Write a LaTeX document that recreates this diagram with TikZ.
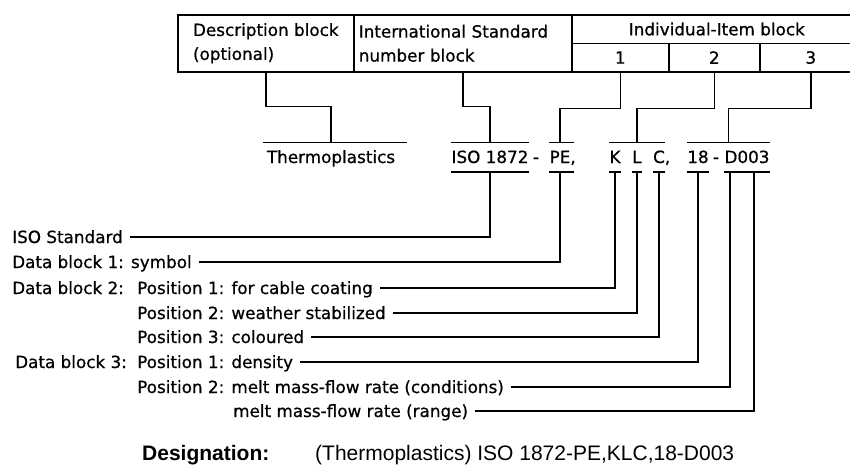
\documentclass[tikz,border=0pt]{standalone}
\usepackage{fontspec}
\setmainfont{DejaVu Sans}[FakeBold=0.7]
\newfontfamily\desfont{Liberation Sans}
\usepackage{tikz}
\usetikzlibrary{calc,positioning}

\begin{document}
\begin{tikzpicture}[
  x=1pt, y=-1pt,
  font=\fontsize{16.8}{24}\selectfont,
  blk/.style={draw, line width=1.6pt, anchor=north west, minimum height=57pt, inner ysep=0pt, align=left},
  cell/.style={draw, line width=1.6pt, anchor=north west, minimum height=28.5pt, inner sep=0pt},
  item/.style={inner sep=0pt, text height=12pt, text depth=0pt, minimum height=29pt},
  lbl/.style={anchor=west, inner sep=0pt, text height=12pt, text depth=0pt},
  bar/.style={line width=1.6pt},
  lead/.style={line width=1.6pt},
  tie/.style={line width=1.6pt, shorten >=7pt},
]
\useasboundingbox (0,0) rectangle (850,466);

\node[blk, minimum width=176pt] (desc) at (177,14) {Description block\\(optional)};
\node[blk, minimum width=218pt, text width=208pt, inner xsep=5pt] (isn) at (353,14) {International Standard\\number block};
\node[cell, minimum width=290pt] (ind) at (571,14) {Individual-Item block};
\node[cell, minimum width=97pt] (c1) at (571,42.5) {1};
\node[cell, minimum width=91pt] (c2) at (668,42.5) {2};
\node[cell, minimum width=102pt] (c3) at (759,42.5) {3};

\node[item] (thermo) at (331,157) {Thermoplastics};
\node[item] (iso) at (490,157) {ISO 1872};
\node[item] (dsh1) at (536,157) {-};
\node[item] (pe) at (560,157) {PE\rlap{,}};
\node[item] (k) at (615,157) {K};
\node[item] (l) at (637,157) {L};
\node[item] (c) at (659,157) {C\rlap{,}};
\node[item] (n18) at (698,157) {18};
\node[item] (dsh2) at (716,157) {-};
\node[item] (d003) at (747,157) {D003};
\coordinate (grp3) at ($(n18.north west)!.5!(d003.north east)$);

\draw[bar] ([xshift=-4pt]thermo.north west) -- ([xshift=12pt]thermo.north east);
\draw[bar] (iso.north west) -- (iso.north east);
\draw[bar] (iso.south west) -- (iso.south east);
\draw[bar] (pe.north west) -- ([xshift=3pt]pe.north east);
\draw[bar] (pe.south west) -- ([xshift=3pt]pe.south east);
\draw[bar] (k.north west) -- (c.north east);
\draw[bar] (k.south west) -- (k.south east);
\draw[bar] (l.south west) -- (l.south east);
\draw[bar] (c.south west) -- (c.south east);
\draw[bar] (n18.north west) -- (d003.north east);
\draw[bar] (n18.south west) -- (n18.south east);
\draw[bar] (d003.south west) -- (d003.south east);

\draw[lead] (desc.south) -- ++(0,34) -| (thermo.north);
\draw[lead] (isn.south) -- ++(0,34) -| (iso.north);
\draw[lead] (c1.south) -- ++(0,36) -| (pe.north);
\draw[lead] (c2.south) -- ++(0,36) -| (l.north);
\draw[lead] (c3.south) -- ++(0,36) -| (grp3);

\node[lbl] (lstd) at (12,237) {ISO Standard};
\node[lbl] (lsym) at (12,262) {Data block 1: symbol};
\node[lbl] (ldb2) at (12,288) {Data block 2:};
\node[lbl] (lcab) at (137,288) {Position 1: for cable coating};
\node[lbl] (lwea) at (137,313) {Position 2: weather stabilized};
\node[lbl] (lcol) at (137,337) {Position 3: coloured};
\node[lbl] (ldb3) at (15,362) {Data block 3:};
\node[lbl] (lden) at (137,362) {Position 1: density};
\node[lbl] (lcon) at (137,387) {Position 2: melt mass-flow rate (conditions)};
\node[lbl] (lran) at (233,411) {melt mass-flow rate (range)};

\draw[tie] (iso.south) |- (lstd.east);
\draw[tie] (pe.south) |- (lsym.east);
\draw[tie] (k.south) |- (lcab.east);
\draw[tie] (l.south) |- (lwea.east);
\draw[tie] (c.south) |- (lcol.east);
\draw[tie] (n18.south) |- (lden.east);
\draw[tie] ($(d003.south west)!.12!(d003.south east)$) |- (lcon.east);
\draw[tie] ($(d003.south west)!.66!(d003.south east)$) |- (lran.east);

\node[lbl, text height=15pt, font=\desfont\fontsize{21}{24}\selectfont\bfseries] (desig) at (142,453) {Designation:};
\node[lbl, text height=15pt, font=\desfont\fontsize{21}{24}\selectfont] (code) at (315,453) {(Thermoplastics) ISO 1872-PE,KLC,18-D003};
\end{tikzpicture}
\end{document}
